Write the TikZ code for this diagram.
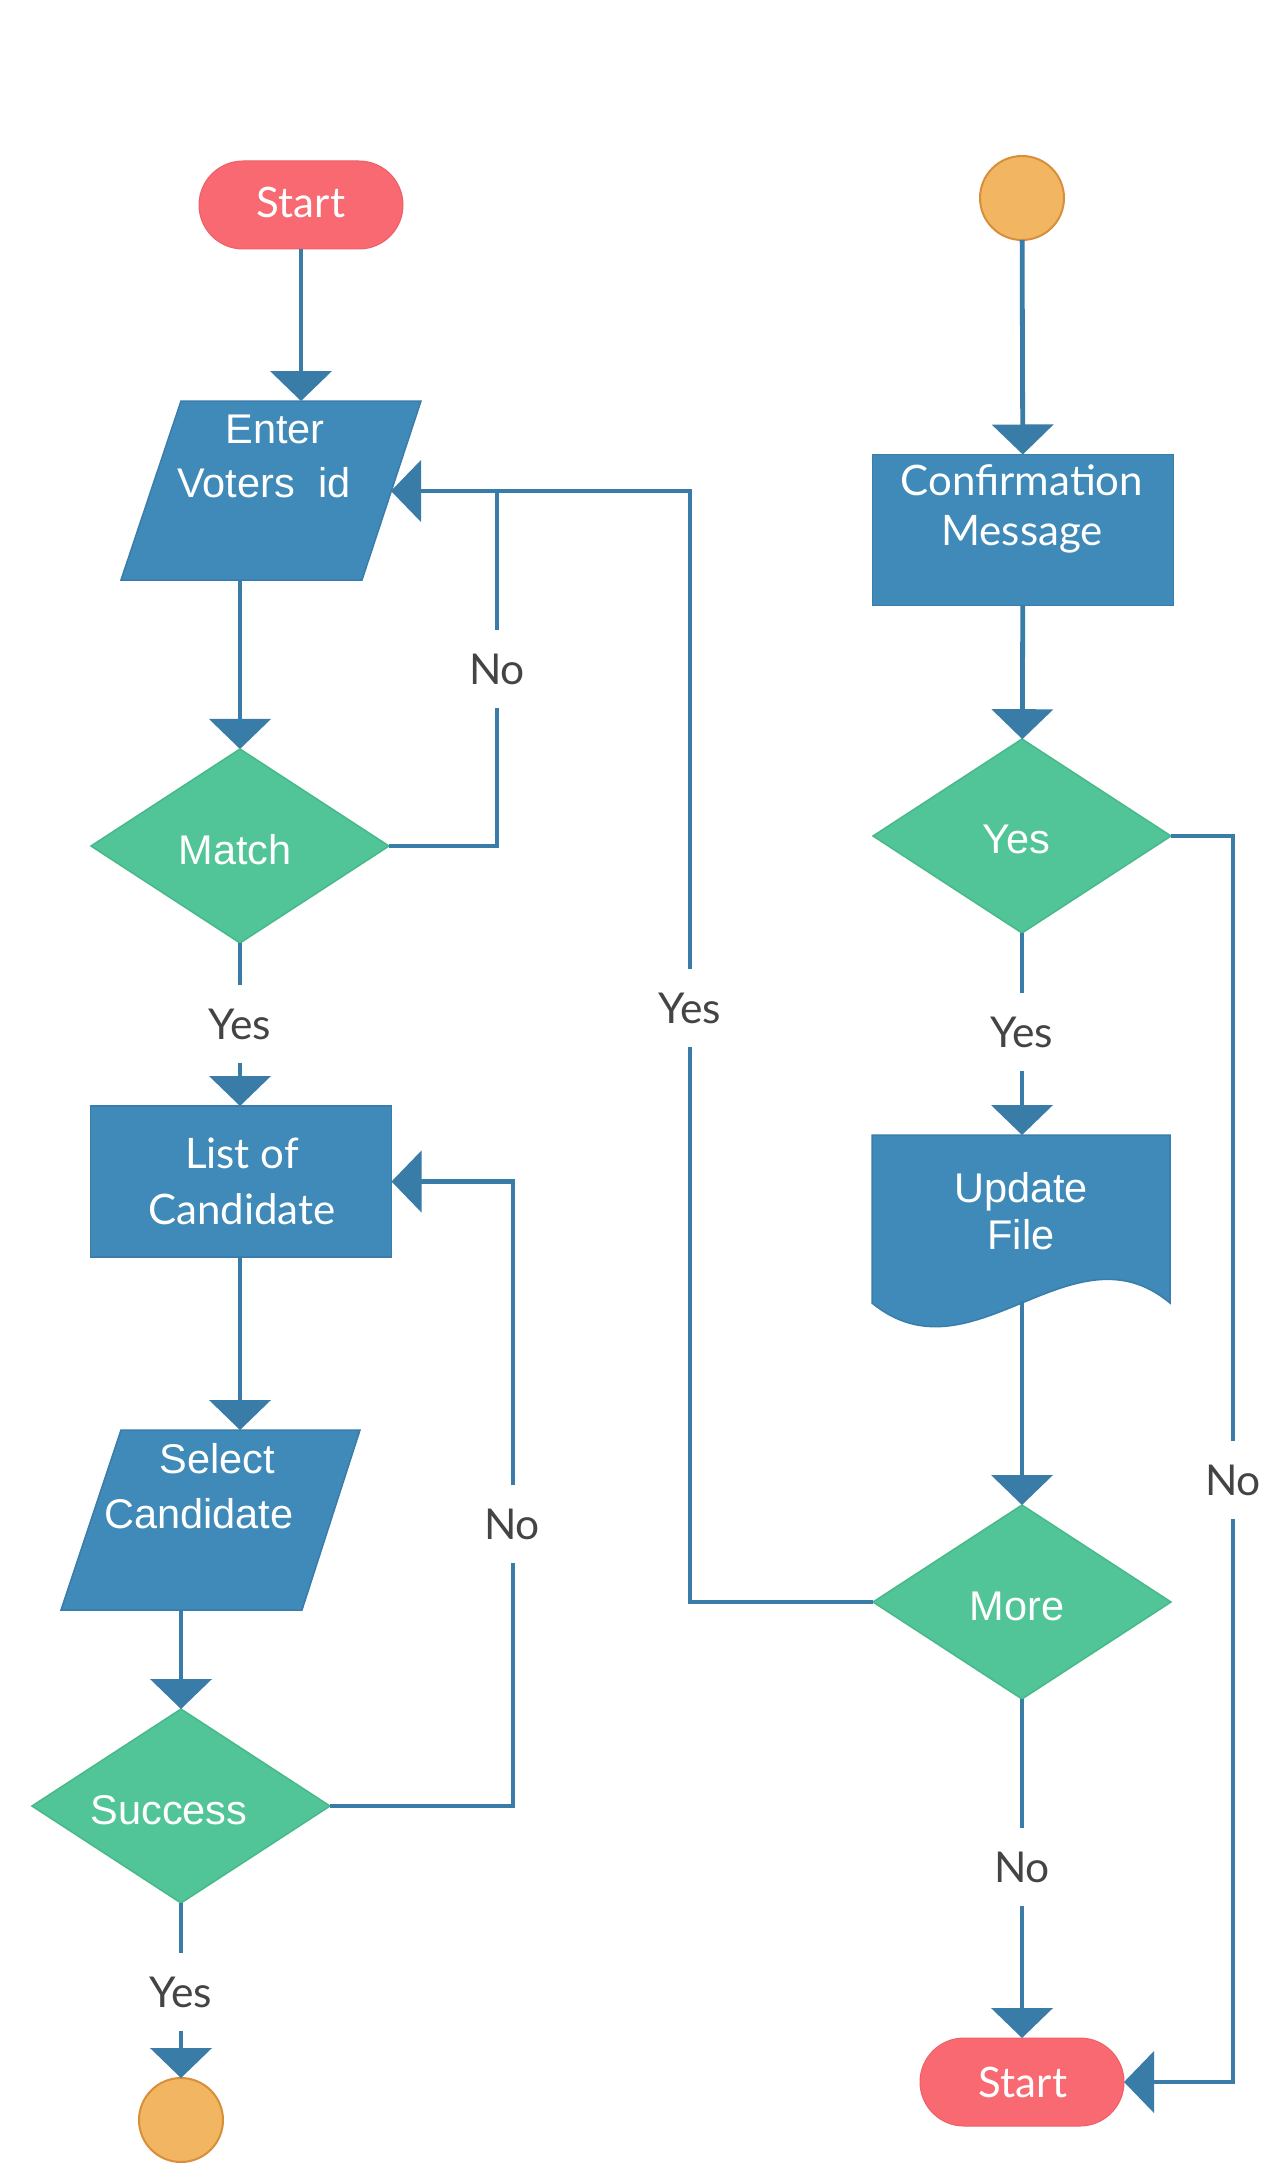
\documentclass[tikz,border=0pt]{standalone}
\usepackage{fontspec}
\newfontfamily\latof{Lato}
\newfontfamily\arialf{Liberation Sans}
\usetikzlibrary{arrows.meta,shapes.geometric}
\definecolor{boxblue}{HTML}{3F8AB8}
\definecolor{boxedge}{HTML}{3A7DAA}
\definecolor{conn}{HTML}{3A7CA8}
\definecolor{dgreen}{HTML}{51C597}
\definecolor{dgreenedge}{HTML}{47B98B}
\definecolor{termred}{HTML}{F86972}
\definecolor{termedge}{HTML}{EE5F68}
\definecolor{orangefill}{HTML}{F2B562}
\definecolor{orangeedge}{HTML}{D98F3A}
\definecolor{lblgray}{HTML}{444444}
\begin{document}
\begin{tikzpicture}[x=1pt,y=-1pt,
  every node/.style={outer sep=0pt},
  flow/.style={draw=conn,line width=4.8pt,-{Triangle[width=61pt,length=30pt]}},
  plainline/.style={draw=conn,line width=4.8pt},
  term/.style={rectangle,rounded corners=44pt,minimum width=204pt,minimum height=88pt,fill=termred,draw=termedge,line width=1pt},
  dia/.style={diamond,minimum width=298pt,minimum height=194pt,inner sep=0pt,fill=dgreen,draw=dgreenedge,line width=1.5pt},
  boxshape/.style={fill=boxblue,draw=boxedge,line width=1.5pt},
  procbox/.style={rectangle,fill=boxblue,draw=boxedge,line width=1.5pt,minimum width=301pt,minimum height=151pt},
  endcirc/.style={circle,minimum size=84pt,inner sep=0pt,fill=orangefill,draw=orangeedge,line width=2pt},
  wlato/.style={text=white,font=\latof\fontsize{42}{50}\selectfont,inner sep=0pt},
  warial/.style={text=white,font=\arialf\fontsize{41.5}{49}\selectfont,inner sep=0pt},
  lbl/.style={text=lblgray,font=\latof\fontsize{42.5}{50}\selectfont,fill=white,inner xsep=2pt,inner ysep=0pt,text height=30pt,text depth=0pt,minimum height=78pt}
]
\path[fill=white] (0,0) rectangle (1279,2183);
\useasboundingbox (0,0) rectangle (1279,2183);

% ---------- left column shapes ----------
\node[term] (start1) at (301,205) {};
\node[wlato,anchor=base] (start1t) at (301,218) {Start};

\draw[boxshape] (181,401) -- (421,401) -- (362,580) -- (121,580) -- cycle;
\coordinate (enterN) at (301,401);
\coordinate (enterS) at (240,580);
\coordinate (enterE) at (391,491);
\node[warial,anchor=base] (entert1) at (275,443) {Enter};
\node[warial,anchor=base] (entert2) at (264,497) {Voters\ \ id};

\node[dia] (match) at (240,846) {};
\node[warial,anchor=base] (matcht) at (235,864) {Match};

\node[procbox] (list) at (241,1181.5) {};
\node[wlato,anchor=base] (listt1) at (242,1168) {List of};
\node[wlato,anchor=base] (listt2) at (242,1224) {Candidate};

\draw[boxshape] (121,1430) -- (360,1430) -- (302,1610) -- (61,1610) -- cycle;
\coordinate (selN) at (240,1430);
\coordinate (selS) at (181,1610);
\node[warial,anchor=base] (selt1) at (217,1473) {Select};
\node[warial,anchor=base] (selt2) at (199,1528) {Candidate};

\node[dia] (success) at (181,1806) {};
\node[warial,anchor=base] (succt) at (169,1824) {Success};

\node[endcirc] (circ2) at (181,2120) {};

% ---------- right column shapes ----------
\node[endcirc] (circ1) at (1022,198) {};

\node[procbox,minimum width=301pt] (conf) at (1023,530) {};
\node[wlato,anchor=base] (conft1) at (1022,495) {Confirmation};
\node[wlato,anchor=base] (conft2) at (1022,545) {Message};

\node[dia] (yesd) at (1022,836) {};
\node[warial,anchor=base] (yesdt) at (1016,853) {Yes};

\draw[boxshape] (872,1135) -- (1170,1135) -- (1170,1303) .. controls (1072,1221) and (972,1385) .. (872,1303) -- cycle;
\coordinate (updN) at (1022,1135);
\coordinate (updS) at (1022,1301);
\node[warial,anchor=base] (updt1) at (1021,1202) {Update};
\node[warial,anchor=base] (updt2) at (1021,1249) {File};

\node[dia] (more) at (1022,1602) {};
\node[warial,anchor=base] (moret) at (1017,1620) {More};

\node[term] (start2) at (1022,2082) {};
\node[wlato,anchor=base] (start2t) at (1023,2097) {Start};

% ---------- connectors ----------
\coordinate (j1) at (497,491);
\coordinate (j2) at (690,491);
\coordinate (j3) at (513,1181.5);
\coordinate (j4) at (1233,2082);

\draw[flow] (start1) -- (enterN);
\draw[flow] (enterS) -- (match);
\draw[plainline] (match.east) -| (j1);
\draw[flow] (more.west) -| (j2) -- (enterE);
\draw[flow] (match.south) -- (match.south |- list.north);
\draw[flow] (match.south |- list.south) -- (selN);
\draw[flow] (selS) -- (success);
\draw[flow] (success.east) -| (j3) -- (list.east);
\draw[flow] (success) -- (circ2);

\draw[flow] (circ1) -- (conf);
\draw[flow] (conf) -- (yesd);
\draw[flow] (yesd) -- (updN);
\draw[flow] (updS) -- (more);
\draw[flow] (more) -- (start2);
\draw[flow] (yesd.east) -| (j4) -- (start2.east);

% ---------- labels ----------
\node[lbl] (lno1) at (497,669) {No};
\node[lbl] (lyes1) at (240,1024) {Yes};
\node[lbl] (lyes2) at (690,1008) {Yes};
\node[lbl] (lyes3) at (1022,1032) {Yes};
\node[lbl] (lno2) at (1233,1480) {No};
\node[lbl] (lno3) at (1022,1867) {No};
\node[lbl] (lno4) at (512,1524) {No};
\node[lbl] (lyes4) at (181,1992) {Yes};
\end{tikzpicture}
\end{document}
